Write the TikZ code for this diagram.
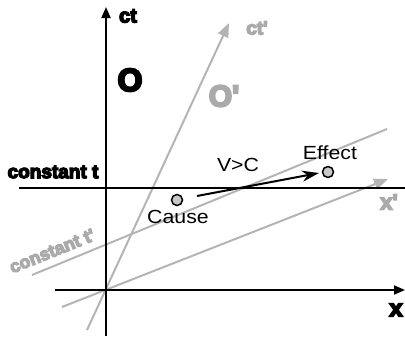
\documentclass[tikz,border=0pt]{standalone}
\usepackage{fontspec}
\setmainfont{Liberation Sans}
\newfontfamily\wide{Liberation Sans}[FakeStretch=1.12]
\newfontfamily\heavy{Liberation Sans}[UprightFont={* Bold}, FakeBold=7]
\usetikzlibrary{arrows.meta}
\definecolor{lg}{RGB}{180,180,180}
\definecolor{tg}{RGB}{170,170,170}
\definecolor{dotfill}{RGB}{200,200,200}
\begin{document}
\begin{tikzpicture}[x=1pt,y=-1pt,
  axis/.style={line width=2pt,black},
  gline/.style={line width=2pt,lg},
  blab/.style={font={\heavy\fontsize{#1}{#1}\selectfont}, text=black, inner sep=0pt},
  glab/.style={font={\heavy\fontsize{#1}{#1}\selectfont}, text=tg, inner sep=0pt},
  tlab/.style={font={\wide\fontsize{19}{19}\selectfont}, text=black, inner sep=0pt},
  evdot/.style={circle, draw=black, line width=1.5pt, fill=dotfill, minimum size=11pt, inner sep=0pt},
  bhead/.style={-{Triangle[length=11pt,width=9pt]}},
  ghead/.style={-{Triangle[length=14pt,width=11pt]}}]
\useasboundingbox (0,0) rectangle (405,340);
% coordinates
\coordinate (ctb) at (106,336);
\coordinate (ctt) at (106,7);
\coordinate (xl) at (55,290);
\coordinate (xr) at (405,290);
\coordinate (ctl) at (19,188);
\coordinate (ctr) at (405,188);
\coordinate (cpb) at (87,330);
\coordinate (cpt) at (229,23);
\coordinate (xpl) at (62,307);
\coordinate (xpr) at (388,179);
\coordinate (cpl) at (32,275);
\coordinate (cpr) at (387,129);
% gray primed frame
\draw[gline, ghead] (cpb) -- (cpt);
\draw[gline, ghead] (xpl) -- (xpr);
\draw[gline] (cpl) -- (cpr);
% black frame
\draw[axis] (ctl) -- (ctr);
\draw[axis, bhead] (ctb) -- (ctt);
\draw[axis, bhead] (xl) -- (xr);
% events
\node[evdot] (cause) at (177,200) {};
\node[evdot] (effect) at (328,172) {};
\coordinate (as) at (197,196);
\coordinate (ae) at (319,173);
\draw[line width=2pt, -{Stealth[length=17pt,width=11pt]}] (as) -- (ae);
% labels
\node[blab=20] (lct) at (128,16) {ct};
\node[blab=32] (lO) at (130,80) {O};
\node[blab=24] (lx) at (396,310) {x};
\node[blab=19] (lconst) at (53,172) {constant t};
\node[glab=19] (lctp) at (257,28) {ct\textquotesingle};
\node[glab=30] (lOp) at (224,96) {O\textquotesingle};
\node[glab=22] (lxp) at (389,202) {x\textquotesingle};
\node[glab=18, rotate=22] (lconstp) at (52,251) {constant t\textquotesingle};
\node[tlab] (lv) at (238,165) {V>C};
\node[tlab] (lcause) at (178,217) {Cause};
\node[tlab] (leffect) at (330,153) {Effect};
\end{tikzpicture}
\end{document}
